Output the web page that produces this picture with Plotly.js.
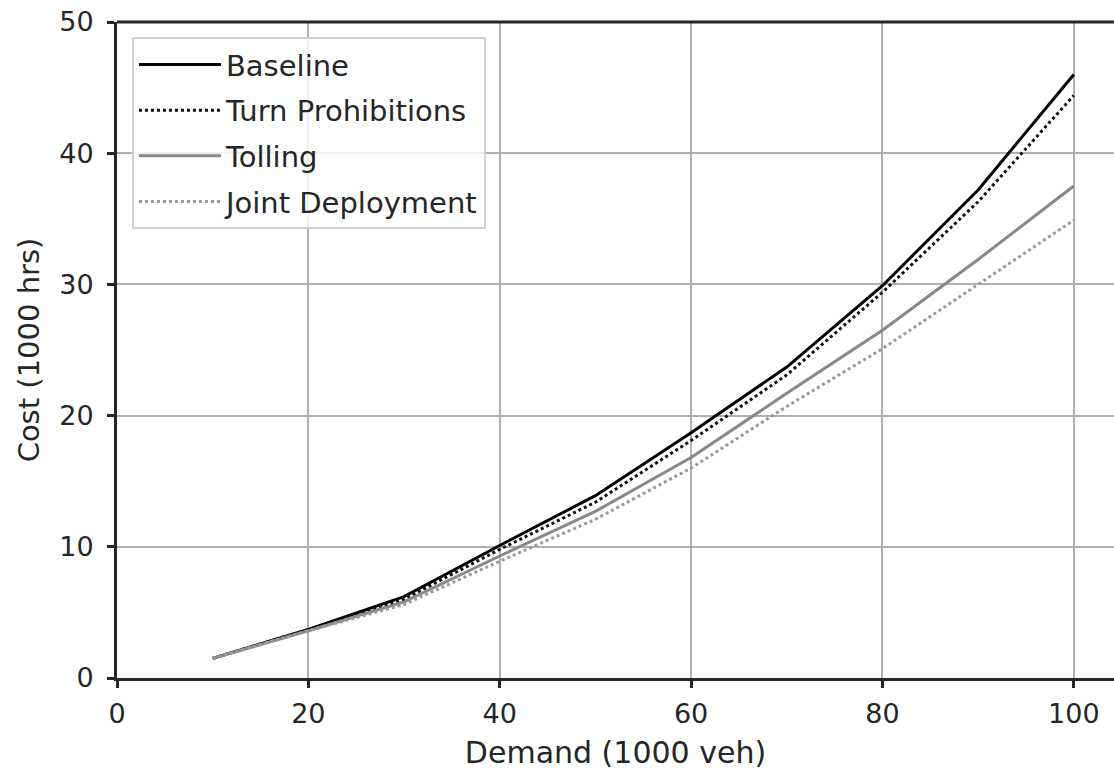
<!DOCTYPE html>
<html>
<head>
<meta charset="utf-8">
<script src="https://cdn.plot.ly/plotly-3.0.1.min.js"></script>
<style>html,body{margin:0;padding:0;background:#fff;}#chart{width:1114px;height:776px;}</style>
</head>
<body>
<div id="chart"></div>
<script>
const demand = [10, 20, 30, 40, 50, 60, 70, 80, 90, 100];
const baseline = [1.5, 3.7, 6.2, 10.1, 13.9, 18.7, 23.7, 29.9, 37.2, 46.0];
const turnProhibitions = [1.5, 3.7, 6.0, 9.8, 13.4, 18.1, 23.1, 29.4, 36.3, 44.4];
const tolling = [1.5, 3.6, 5.8, 9.3, 12.7, 16.8, 21.7, 26.5, 31.9, 37.5];
const jointDeployment = [1.5, 3.6, 5.6, 8.9, 12.1, 16.0, 20.7, 25.1, 30.0, 34.9];
const seriesNames = ["Baseline", "Turn Prohibitions", "Tolling", "Joint Deployment"];
const xTicks = [0, 20, 40, 60, 80, 100];
const yTicks = [0, 10, 20, 30, 40, 50];

const FONT = "DejaVu Sans, sans-serif";
const TXT = "#262626";

const styles = [
  {color: "#000000", dash: "solid"},
  {color: "#111111", dash: "dot"},
  {color: "#888888", dash: "solid"},
  {color: "#9a9a9a", dash: "dot"}
];
const ys = [baseline, turnProhibitions, tolling, jointDeployment];

const traces = ys.map((y, i) => ({
  x: demand, y: y, type: "scatter", mode: "lines", name: seriesNames[i],
  legendgroup: "g" + i,
  line: {color: styles[i].color, width: 3, dash: styles[i].dash}
}));

const layout = {
  width: 1114, height: 776,
  margin: {l: 117, r: 0, t: 22, b: 98},
  paper_bgcolor: "#fff", plot_bgcolor: "#fff",
  font: {family: FONT, color: TXT, size: 26},
  showlegend: true,
  legend: {
    x: 0.015, y: 0.977, xanchor: "left", yanchor: "top",
    bgcolor: "rgba(255,255,255,0.8)", bordercolor: "#d0d0d0", borderwidth: 2,
    font: {family: FONT, size: 29, color: TXT},
    tracegroupgap: 5, itemwidth: 82
  },
  xaxis: {
    range: [0, 104.2], tickvals: xTicks, ticktext: xTicks.map(String),
    showgrid: true, gridcolor: "#b0b0b0", gridwidth: 2,
    showline: true, linecolor: TXT, linewidth: 3, mirror: false,
    ticks: "outside", ticklen: 7, tickwidth: 3, tickcolor: TXT,
    ticklabelstandoff: 3,
    zeroline: false, tickfont: {size: 27, family: FONT, color: TXT},
    title: {text: "Demand (1000 veh)", font: {size: 30, family: FONT, color: TXT}, standoff: 14}
  },
  yaxis: {
    range: [0, 50], tickvals: yTicks, ticktext: yTicks.map(String),
    showgrid: true, gridcolor: "#b0b0b0", gridwidth: 2,
    showline: true, linecolor: TXT, linewidth: 3, mirror: false,
    ticks: "outside", ticklen: 7, tickwidth: 3, tickcolor: TXT,
    ticklabelstandoff: 8,
    zeroline: false, tickfont: {size: 27, family: FONT, color: TXT},
    title: {text: "Cost (1000 hrs)", font: {size: 29, family: FONT, color: TXT}, standoff: 12}
  },
  shapes: [
    {type: "line", xref: "paper", yref: "paper", x0: 0, x1: 1, y0: 1, y1: 1,
     line: {color: TXT, width: 3}}
  ]
};

Plotly.newPlot("chart", traces, layout, {displayModeBar: false, staticPlot: true});
</script>
</body>
</html>
